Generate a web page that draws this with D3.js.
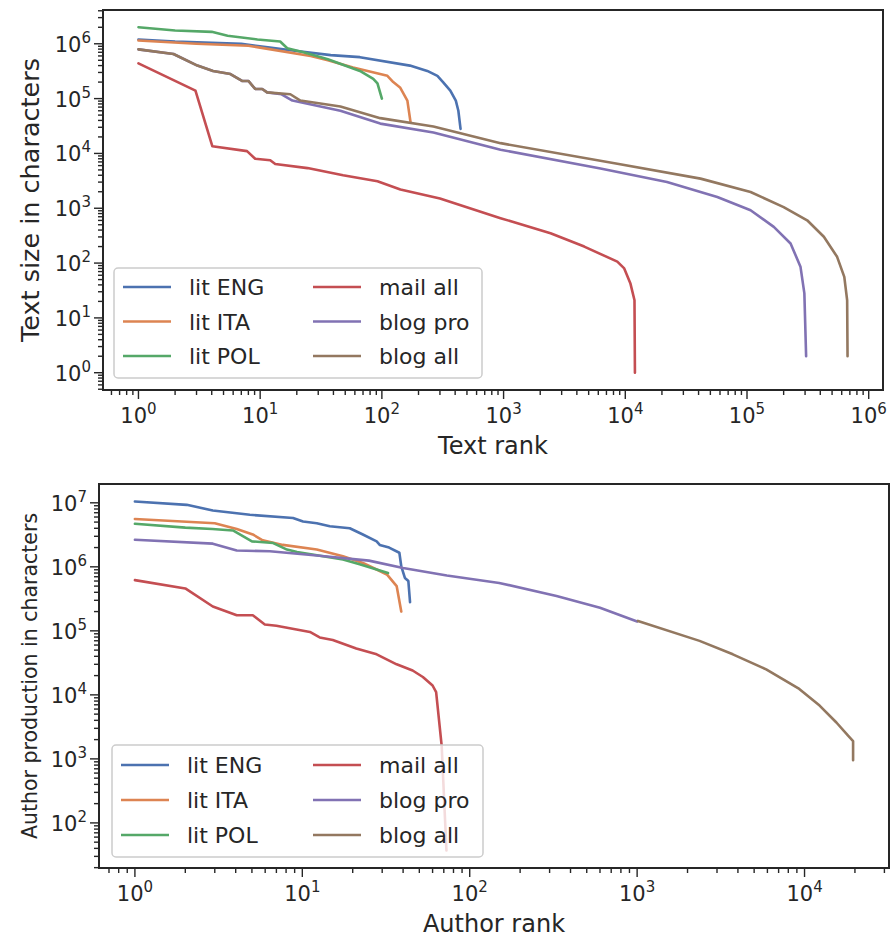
<!DOCTYPE html>
<html>
<head>
<meta charset="utf-8">
<script src="https://cdn.jsdelivr.net/npm/d3@7"></script>
<style>
  body { margin: 0; background: #fff; }
  svg text { font-family: "DejaVu Sans", sans-serif; fill: #262626; }
</style>
</head>
<body>
<svg id="fig" width="892" height="943"></svg>
<script>
// series names and colours (seaborn "deep")
const names  = ["lit ENG", "lit ITA", "lit POL", "mail all", "blog pro", "blog all"];
const colors = ["#4c72b0", "#dd8452", "#55a868", "#c44e52", "#8172b3", "#937860"];

// top panel: [text rank, text size in characters]
const litEngText = [[1,1.2e6],[2,1.1e6],[7,1.0e6],[12,8.5e5],[20,7.4e5],[38,6.2e5],[66,5.7e5],[170,4.0e5],[236,3.2e5],[286,2.6e5],[318,2.0e5],[365,1.4e5],[405,9.2e4],[425,6e4],[443,2.8e4]];
const litItaText = [[1,1.15e6],[3,1.0e6],[8,9.2e5],[10,8.5e5],[26,6e5],[36,5.0e5],[58,3.7e5],[111,2.6e5],[124,2.0e5],[141,1.6e5],[162,9.2e4],[172,3.7e4]];
const litPolText = [[1,2.0e6],[2,1.75e6],[4,1.65e6],[5.4,1.4e6],[9.5,1.2e6],[14.6,1.1e6],[16.7,8.3e5],[22.7,7e5],[36,5.2e5],[66,3.2e5],[85,2.3e5],[92,1.9e5],[100,1.0e5]];
const mailText   = [[1,4.4e5],[2.94,1.4e5],[4.05,1.35e4],[7.8,1.1e4],[9.1,8e3],[12.1,7.5e3],[13.3,6.4e3],[24.5,5.4e3],[48,4e3],[92,3.1e3],[142,2.2e3],[300,1.5e3],[944,660],[2430,351],[4600,200],[8600,106],[9800,80],[11000,43],[11900,21],[12000,1]];
const blogProText = [[1,7.9e5],[1.94,6.5e5],[3.05,4e5],[4.1,3.2e5],[5.7,2.8e5],[7.1,2.1e5],[8,2.1e5],[9.1,1.5e5],[10.4,1.5e5],[11.4,1.3e5],[15,1.2e5],[18.4,9.2e4],[45.6,6e4],[97,3.5e4],[265,2.4e4],[944,1.17e4],[6250,5.3e3],[22000,3.0e3],[57000,1.6e3],[107000,920],[166000,458],[228000,228],[275000,86],[296000,28],[306000,2]];
const blogAllText = [[1,7.9e5],[1.94,6.5e5],[3.05,4e5],[4.1,3.2e5],[5.7,2.8e5],[7.1,2.1e5],[8,2.1e5],[9.1,1.5e5],[10.4,1.5e5],[11.4,1.3e5],[17.7,1.2e5],[21.4,9.2e4],[45.6,7.2e4],[97,4.4e4],[265,3.1e4],[944,1.54e4],[8600,6.5e3],[41500,3.47e3],[107000,1.98e3],[200000,1.05e3],[312000,603],[428000,302],[550000,130],[630000,56],[665000,21],[670000,2]];

// bottom panel: [author rank, author production in characters]
const litEngAuthor = [[1,1.05e7],[2.04,9.3e6],[2.92,7.6e6],[4.86,6.5e6],[8.8,5.8e6],[10.1,5.1e6],[12.2,4.8e6],[14.6,4.3e6],[19.2,4.0e6],[23,3.2e6],[27.8,2.5e6],[29,2.2e6],[33,2.0e6],[38,1.66e6],[39,1.02e6],[41,6.7e5],[43,6e5],[44,2.8e5]];
const litItaAuthor = [[1,5.6e6],[3,4.8e6],[4.06,3.9e6],[5.06,3.2e6],[5.8,2.6e6],[7.65,2.2e6],[12.2,1.86e6],[17.5,1.46e6],[23,1.15e6],[27.8,9.1e5],[32,7.6e5],[36.6,5e5],[39,2.0e5]];
const litPolAuthor = [[1,4.7e6],[2,4.1e6],[2.9,3.9e6],[3.85,3.7e6],[5,2.5e6],[6.7,2.35e6],[8.1,1.86e6],[9.3,1.7e6],[13.3,1.46e6],[17.5,1.3e6],[22,1.1e6],[27.8,9.1e5],[32.5,8e5]];
const mailAuthor   = [[1,6.2e5],[2,4.6e5],[2.92,2.4e5],[4.06,1.75e5],[5.06,1.75e5],[5.97,1.26e5],[7,1.2e5],[11.1,9.6e4],[12.7,7.9e4],[15.2,7.2e4],[21,5.3e4],[27.8,4.3e4],[36.6,3.0e4],[45.6,2.4e4],[52.5,1.9e4],[60,1.4e4],[63,1.1e4],[68,1.6e3],[72.6,37]];
const blogProAuthor = [[1,2.65e6],[2.92,2.3e6],[4.06,1.8e6],[6.4,1.75e6],[12.2,1.5e6],[25,1.25e6],[40,9.6e5],[73,7.3e5],[150,5.6e5],[330,3.5e5],[600,2.3e5],[1000,1.4e5]];
const blogAllAuthor = [[1012,1.43e5],[2360,6.97e4],[3730,4.3e4],[5900,2.5e4],[9300,1.24e4],[12300,6.8e3],[15500,3.7e3],[18200,2.3e3],[19500,1.9e3],[19500,950]];

const svg = d3.select("#fig");
const INK = "#262626";

// log domain with 5% padding (like matplotlib margins)
function padLog(ext) {
  const a = Math.log10(ext[0]), b = Math.log10(ext[1]);
  const m = (b - a) * 0.05;
  return [Math.pow(10, a - m), Math.pow(10, b + m)];
}

function isMajor(v) {
  const l = Math.log10(v);
  return Math.abs(l - Math.round(l)) < 1e-9;
}

function drawPanel(cfg, idx) {
  const g = svg.append("g");
  const all = cfg.series.flat();
  const x = d3.scaleLog().domain(padLog(d3.extent(all, d => d[0]))).range([cfg.left, cfg.right]);
  const y = d3.scaleLog().domain(padLog(d3.extent(all, d => d[1]))).range([cfg.bottom, cfg.top]);

  const clipId = "clip" + idx;
  g.append("clipPath").attr("id", clipId)
    .append("rect")
    .attr("x", cfg.left).attr("y", cfg.top)
    .attr("width", cfg.right - cfg.left).attr("height", cfg.bottom - cfg.top);

  // lines
  const line = d3.line().x(d => x(d[0])).y(d => y(d[1]));
  g.append("g").attr("clip-path", `url(#${clipId})`)
    .selectAll("path")
    .data(cfg.series)
    .join("path")
    .attr("d", line)
    .attr("fill", "none")
    .attr("stroke", (d, i) => colors[i])
    .attr("stroke-width", 2.6)
    .attr("stroke-linejoin", "round")
    .attr("stroke-linecap", "round");

  // ticks
  const xt = x.ticks().filter(v => v >= x.domain()[0] && v <= x.domain()[1]);
  const yt = y.ticks().filter(v => v >= y.domain()[0] && v <= y.domain()[1]);

  g.append("g").selectAll("line").data(xt).join("line")
    .attr("x1", d => x(d)).attr("x2", d => x(d))
    .attr("y1", cfg.bottom).attr("y2", d => cfg.bottom + (isMajor(d) ? 9 : 5))
    .attr("stroke", INK).attr("stroke-width", 1.4);

  g.append("g").selectAll("line").data(yt).join("line")
    .attr("y1", d => y(d)).attr("y2", d => y(d))
    .attr("x1", cfg.left).attr("x2", d => cfg.left - (isMajor(d) ? 9 : 5))
    .attr("stroke", INK).attr("stroke-width", 1.4);

  const xl = g.append("g").selectAll("text").data(xt.filter(isMajor)).join("text")
    .attr("x", d => x(d)).attr("y", cfg.bottom + 33)
    .attr("text-anchor", "middle")
    .style("font-size", "21px");
  xl.append("tspan").text("10");
  xl.append("tspan").attr("dy", -9).style("font-size", "15px").text(d => Math.round(Math.log10(d)));

  const yl = g.append("g").selectAll("text").data(yt.filter(isMajor)).join("text")
    .attr("x", cfg.left - 12).attr("y", d => y(d) + 8)
    .attr("text-anchor", "end")
    .style("font-size", "21px");
  yl.append("tspan").text("10");
  yl.append("tspan").attr("dy", -9).style("font-size", "15px").text(d => Math.round(Math.log10(d)));

  // frame
  g.append("rect")
    .attr("x", cfg.left).attr("y", cfg.top)
    .attr("width", cfg.right - cfg.left).attr("height", cfg.bottom - cfg.top)
    .attr("fill", "none").attr("stroke", INK).attr("stroke-width", 2);

  // axis labels
  g.append("text")
    .attr("x", (cfg.left + cfg.right) / 2).attr("y", cfg.bottom + 64)
    .attr("text-anchor", "middle")
    .style("font-size", "24px")
    .text(cfg.xlabel);
  g.append("text")
    .attr("transform", `translate(${cfg.ylabelX},${(cfg.top + cfg.bottom) / 2}) rotate(-90)`)
    .attr("text-anchor", "middle")
    .style("font-size", cfg.ylabelSize + "px")
    .text(cfg.ylabel);

  // legend
  const L = cfg.legend;
  const lg = g.append("g").attr("transform", `translate(${L.x},${L.y})`);
  lg.append("rect")
    .attr("width", L.w).attr("height", L.h)
    .attr("rx", 4)
    .attr("fill", "#fff").attr("fill-opacity", 0.8)
    .attr("stroke", "#cccccc").attr("stroke-width", 1.5);
  const items = lg.selectAll("g.item").data(names).join("g")
    .attr("class", "item")
    .attr("transform", (d, i) => `translate(${i < 3 ? 0 : L.col2},${L.row0 + (i % 3) * L.dy})`);
  items.append("line")
    .attr("x1", d => 9).attr("x2", 57)
    .attr("stroke", (d, i) => colors[i])
    .attr("stroke-width", 2.6);
  items.append("text")
    .attr("x", 75).attr("y", 8)
    .style("font-size", "22px")
    .text(d => d);
}

drawPanel({
  left: 103, right: 883, top: 10, bottom: 390,
  series: [litEngText, litItaText, litPolText, mailText, blogProText, blogAllText],
  xlabel: "Text rank", ylabel: "Text size in characters", ylabelSize: 25.5, ylabelX: 39,
  legend: { x: 114, y: 268, w: 368, h: 110, col2: 190, row0: 19, dy: 34.5 }
}, 0);

drawPanel({
  left: 99, right: 889, top: 484, bottom: 868,
  series: [litEngAuthor, litItaAuthor, litPolAuthor, mailAuthor, blogProAuthor, blogAllAuthor],
  xlabel: "Author rank", ylabel: "Author production in characters", ylabelSize: 20.5, ylabelX: 37,
  legend: { x: 112, y: 745, w: 371, h: 112, col2: 192, row0: 20, dy: 35 }
}, 1);
</script>
</body>
</html>
